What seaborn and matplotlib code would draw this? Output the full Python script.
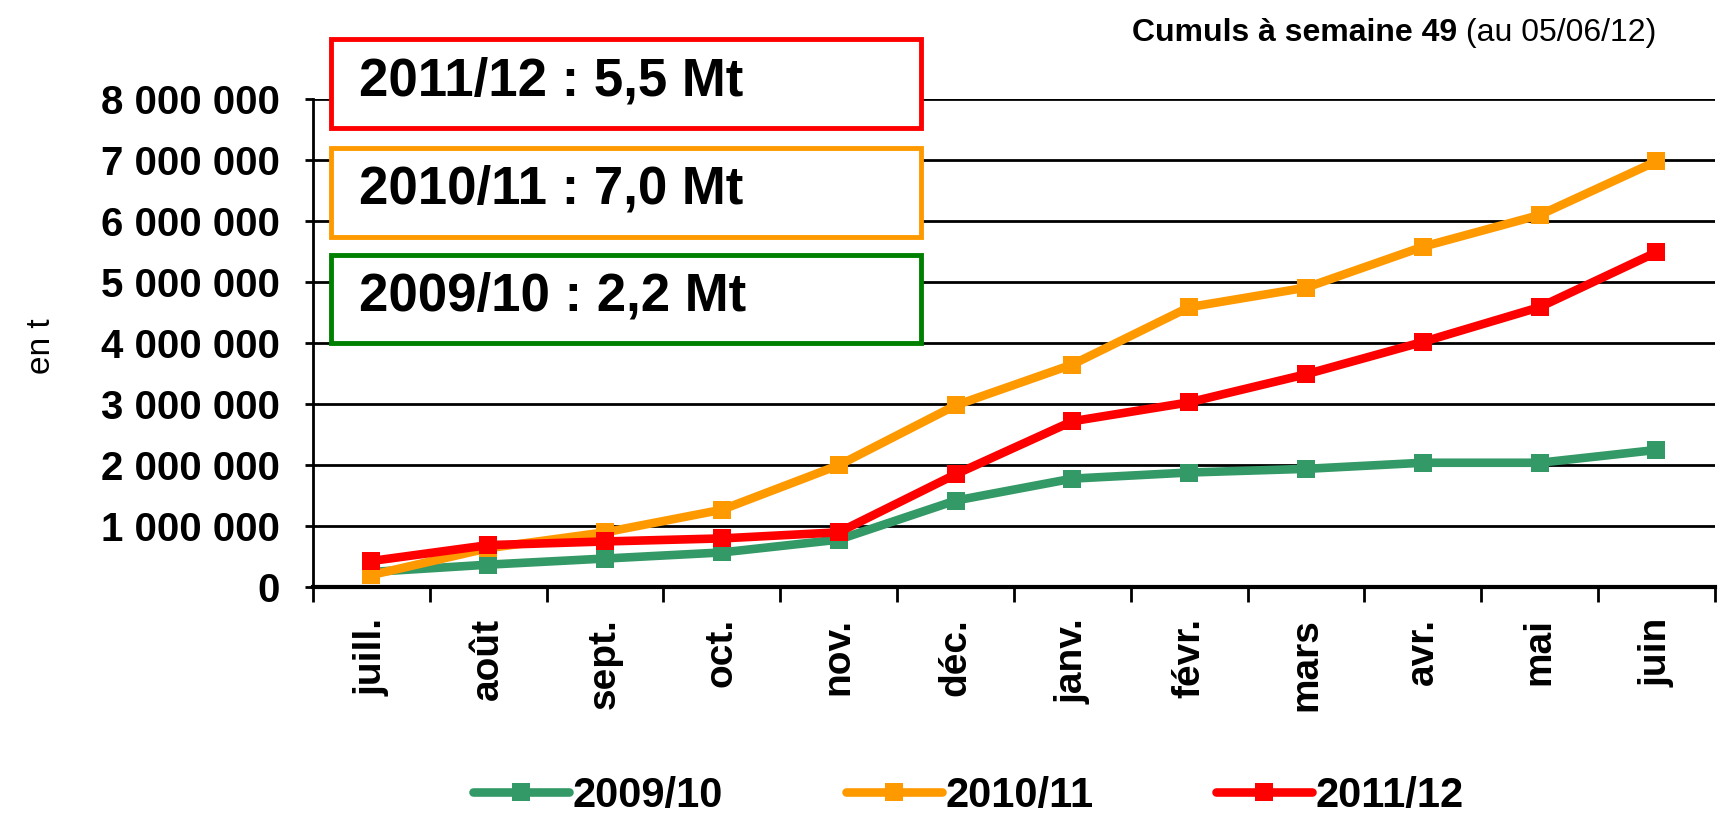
import numpy as np
import pandas as pd
import seaborn as sns
import matplotlib
matplotlib.use("Agg")
import matplotlib.pyplot as plt
from matplotlib.patches import Rectangle
from matplotlib.lines import Line2D
from matplotlib.ticker import FuncFormatter, FixedLocator

months = ["juill.", "août", "sept.", "oct.", "nov.", "déc.", "janv.", "févr.", "mars", "avr.", "mai", "juin"]
s2009 = [250000, 370000, 470000, 570000, 780000, 1420000, 1780000, 1880000, 1940000, 2040000, 2040000, 2250000]
s2010 = [200000, 640000, 900000, 1270000, 2000000, 2980000, 3650000, 4590000, 4910000, 5580000, 6100000, 6980000]
s2011 = [430000, 690000, 750000, 800000, 900000, 1850000, 2720000, 3030000, 3490000, 4020000, 4590000, 5490000]
series_names = ["2009/10", "2010/11", "2011/12"]
colors = {"2009/10": "#339966", "2010/11": "#FF9900", "2011/12": "#FF0000"}
box_texts = ["2011/12 : 5,5 Mt", "2010/11 : 7,0 Mt", "2009/10 : 2,2 Mt"]
box_colors = ["#FF0000", "#FF9900", "#008000"]
yticks = [0, 1000000, 2000000, 3000000, 4000000, 5000000, 6000000, 7000000, 8000000]

df = pd.concat([
    pd.DataFrame({"mois": months, "valeur": vals, "campagne": name})
    for name, vals in zip(series_names, [s2009, s2010, s2011])
], ignore_index=True)

sns.set_theme(style="white")
plt.rcParams["font.family"] = ["Liberation Sans", "DejaVu Sans"]
for k in ["text.color", "axes.labelcolor", "xtick.color", "ytick.color"]:
    plt.rcParams[k] = "black"

fig = plt.figure(figsize=(17.2, 8.19), dpi=100)
ax = fig.add_axes([0.182, 0.283, 0.815, 0.596])

sns.lineplot(data=df, x="mois", y="valeur", hue="campagne", palette=colors,
             hue_order=series_names, style="campagne", markers=["s", "s", "s"],
             dashes=False, sort=False, linewidth=6.2, markersize=12.5,
             markeredgewidth=0, ax=ax, legend=False, zorder=3)

ax.set_xlim(-0.5, len(months) - 0.5)
ax.set_ylim(0, 8000000)
ax.set_yticks(yticks)
ax.yaxis.set_major_formatter(FuncFormatter(lambda v, p: f"{int(v):,}".replace(",", " ")))
ax.grid(axis="y", color="black", linewidth=2, zorder=0)
ax.grid(axis="x", visible=False)
for s in ["top", "right"]:
    ax.spines[s].set_visible(False)
ax.spines["left"].set_color("black")
ax.spines["left"].set_linewidth(2)
ax.spines["bottom"].set_color("black")
ax.spines["bottom"].set_linewidth(3)

ax.set_xticks(range(len(months)))
ax.set_xticklabels(months, rotation=90, fontsize=28, fontweight="bold")
ax.xaxis.set_minor_locator(FixedLocator(np.arange(-0.5, len(months), 1.0)))
ax.tick_params(axis="x", which="major", length=0, pad=22)
ax.tick_params(axis="x", which="minor", length=11, width=2, color="black", direction="out", bottom=True)
ax.tick_params(axis="y", which="major", length=6, width=2, color="black", direction="out", left=True,
               labelsize=29, pad=18)
for lab in ax.get_yticklabels():
    lab.set_fontweight("bold")
ax.set_xlabel("")
ax.set_ylabel("")
fig.text(0.024, 0.577, "en t", rotation=90, fontsize=24, ha="center", va="center")

# Summary boxes
box_y = [0.844, 0.711, 0.581]
for txt, col, y0 in zip(box_texts, box_colors, box_y):
    fig.patches.append(Rectangle((0.1925, y0), 0.343, 0.108, transform=fig.transFigure,
                                 facecolor="white", edgecolor=col, linewidth=3.5, zorder=5))
    fig.text(0.209, y0 + 0.040, txt, fontsize=38, fontweight="bold", ha="left",
             va="baseline", zorder=6)

# Title top right
t_norm = fig.text(0.963, 0.96, " (au 05/06/12)", fontsize=23, ha="right", va="center")
ax.annotate("Cumuls à semaine 49", xy=(0, 0.5), xycoords=t_norm, ha="right", va="center",
            fontsize=23, fontweight="bold", annotation_clip=False)

# Legend
handles = [Line2D([], [], color=colors[n], linewidth=6.2, marker="s", markersize=13, markeredgewidth=0)
           for n in series_names]
leg = fig.legend(handles, series_names, loc="center", bbox_to_anchor=(0.563, 0.028), ncol=3,
                 frameon=False, handlelength=2.3, handletextpad=0.08, columnspacing=2.95,
                 prop={"size": 30, "weight": "bold"})

fig.savefig("out.png", dpi=100, facecolor="white")
